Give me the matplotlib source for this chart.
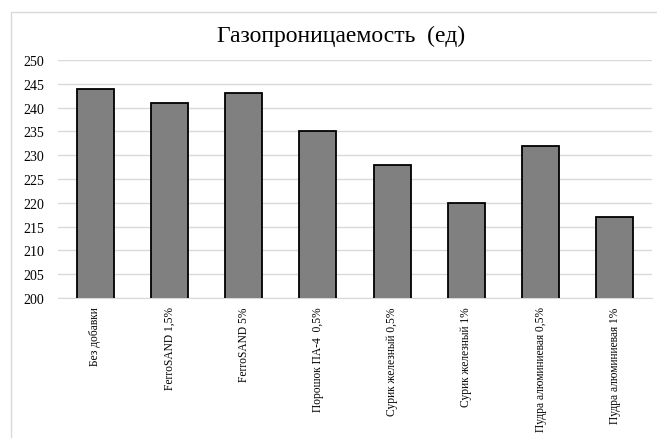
import matplotlib.pyplot as plt
from matplotlib.patches import Rectangle

# Gas permeability by additive
categories = ["Без добавки", "FerroSAND 1,5%", "FerroSAND 5%", "Порошок ПА-4  0,5%",
              "Сурик железный 0,5%", "Сурик железный 1%",
              "Пудра алюминиевая 0,5%", "Пудра алюминиевая 1%"]
values = [244, 241, 243, 235, 228, 220, 232, 217]
yticks = [200, 205, 210, 215, 220, 225, 230, 235, 240, 245, 250]

plt.rcParams['font.family'] = ['Liberation Serif', 'DejaVu Serif']

fig = plt.figure(figsize=(6.57, 4.39), dpi=100)
fig.patch.set_facecolor("white")

# Chart frame (runs off the right and bottom edges)
frame = Rectangle((11 / 657, -0.05), 1.0, 1 - 13 / 439 + 0.05, transform=fig.transFigure,
                  fill=False, edgecolor="#d9d9d9", linewidth=1.0)
fig.patches.append(frame)

ax = fig.add_axes([58 / 657, 1 - 299 / 439, (652 - 58) / 657, (299 - 61) / 439])

x = range(len(categories))
ax.bar(x, values, width=0.5, color="#808080", edgecolor="black", linewidth=1.3, zorder=3)

ax.set_ylim(200, 250)
ax.set_xlim(-0.5, len(categories) - 0.5)
ax.set_yticks(yticks)
ax.set_yticklabels([str(t) for t in yticks], fontsize=10)
ax.set_xticks(list(x))
ax.set_xticklabels(categories, rotation=90, fontsize=8.3, va="top")

ax.grid(axis="y", color="#d9d9d9", linewidth=1.0, zorder=0)
for side in ["top", "right", "left"]:
    ax.spines[side].set_visible(False)
ax.spines["bottom"].set_color("#d9d9d9")
ax.tick_params(axis="both", length=0)
ax.tick_params(axis="y", pad=10)
ax.tick_params(axis="x", pad=6)

fig.text(341 / 657, 1 - 36 / 439, "Газопроницаемость  (ед)", ha="center", va="center", fontsize=17)

fig.savefig("out.png", dpi=100)
